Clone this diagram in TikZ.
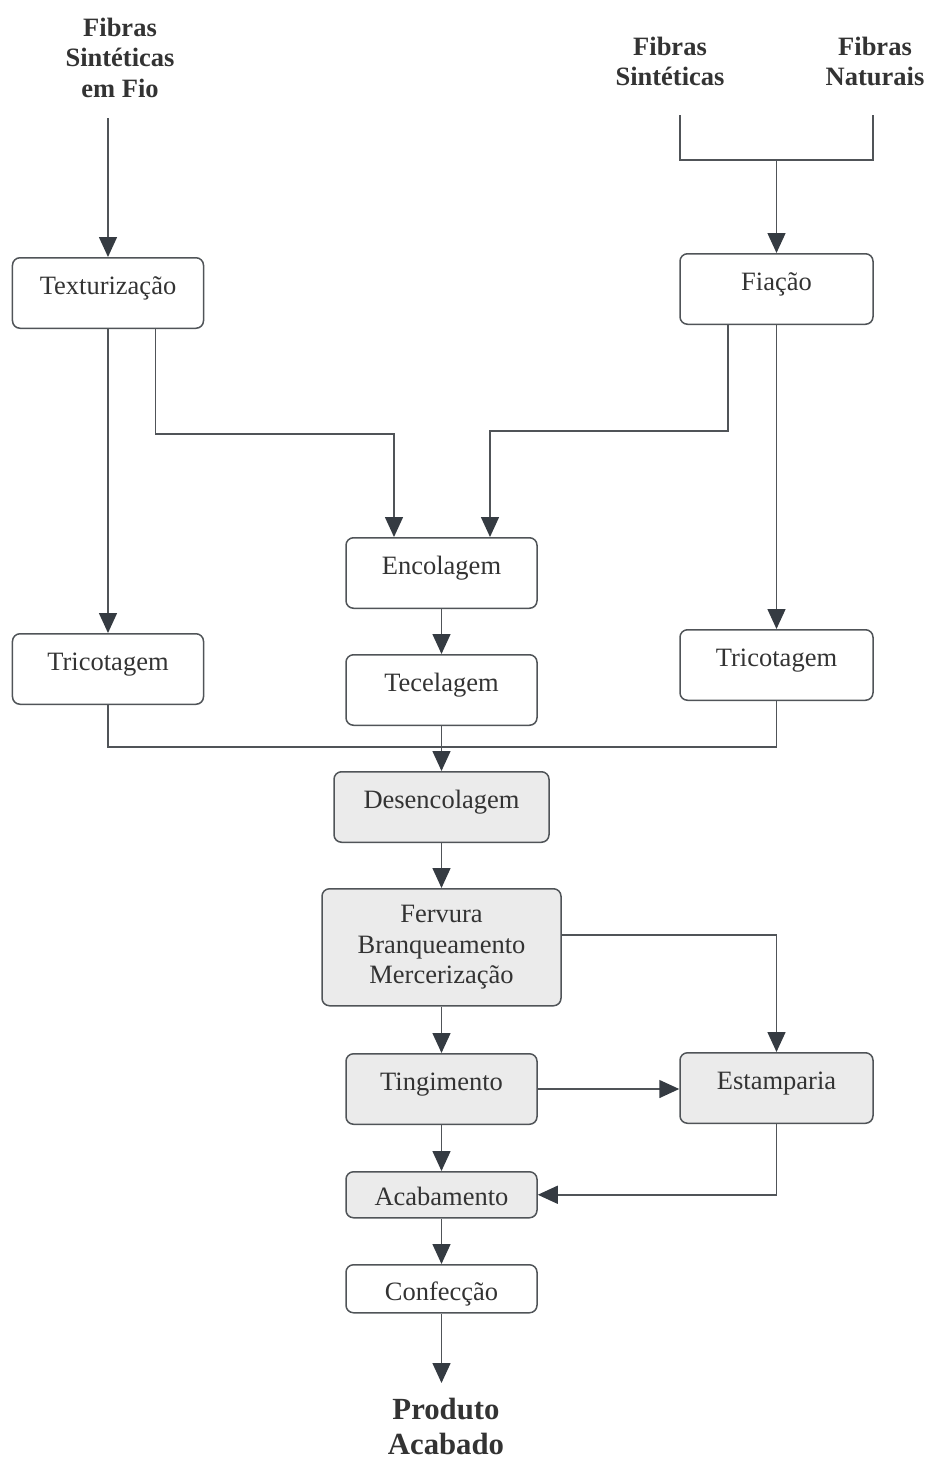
\documentclass[tikz,border=0pt]{standalone}
\usepackage{fontspec}
\setmainfont{Liberation Serif}
\usepackage{tikz}
\usepackage{xcolor}
\usetikzlibrary{arrows.meta}
\usetikzlibrary{calc}

\definecolor{lineC}{HTML}{505458}
\definecolor{tipC}{HTML}{353B42}
\definecolor{txtC}{HTML}{333333}
\definecolor{fillC}{HTML}{EBEBEB}

\tikzset{
  box/.style={draw=lineC, line width=0.6pt, rounded corners=3pt, inner ysep=0pt,
    text=txtC, font=\fontsize{10.6pt}{12.2pt}\selectfont, minimum width=76.4pt},
  proc/.style={box, anchor=north, text height=14.8pt, text depth=#1},
  proc/.default=13.4pt,
  shaded/.style={fill=fillC},
  head/.style={text=txtC, align=center, font=\fontsize{10.6pt}{12.2pt}\selectfont\bfseries},
  line/.style={draw=lineC, line width=0.6pt},
  arr/.style={line, -{Triangle[width=7.2pt,length=8pt,color=tipC]}}
}

\begin{document}
\begin{tikzpicture}[x=0.4pt,y=-0.4pt]
\useasboundingbox (0,0) rectangle (926,1460);
% Raw materials (nodes)
\node[head] (fsf) at (120,57.5) {Fibras\\Sintéticas\\em Fio};
\node[head] (fs) at (670,61.5) {Fibras\\Sintéticas};
\node[head] (fn) at (875,61.5) {Fibras\\Naturais};
\coordinate (fsfOut) at (108,118);
\coordinate (fsOut) at (680,115);
\coordinate (fnOut) at (873,115);
% Process steps (nodes)
\node[proc] (tex) at (108,257) {Texturização};
\node[proc, minimum width=77.2pt] (fia) at (776.5,253) {Fiação};
\node[proc] (enc) at (441.5,537) {Encolagem};
\node[proc] (tec) at (441.5,654) {Tecelagem};
\node[proc] (tri1) at (108,633) {Tricotagem};
\node[proc, minimum width=77.2pt] (tri2) at (776.5,629) {Tricotagem};
\node[proc, shaded, minimum width=86pt] (des) at (441.5,771) {Desencolagem};
\node[box, shaded, anchor=north, align=center, minimum width=95.6pt, minimum height=46.8pt] (fer) at (441.5,888)
  {Fervura\\Branqueamento\\Mercerização};
\node[proc, shaded] (tin) at (441.5,1053) {Tingimento};
\node[proc, shaded, minimum width=77.2pt] (est) at (776.5,1052) {Estamparia};
\node[proc=4.8pt, shaded, text height=13.6pt] (aca) at (441.5,1171) {Acabamento};
\node[proc=4.8pt, text height=14.4pt] (con) at (441.5,1264) {Confecção};
% Final product (node)
\node[head, font=\fontsize{12.3pt}{14pt}\selectfont\bfseries] (prod) at (446,1426) {Produto\\Acabado};
\coordinate (prodIn) at (441.5,1383);
% Arrows
\draw[arr] (fsfOut) -- (tex.north);
\draw[line] (fsOut) |- (fia.north |- 0,160) -| (fnOut);
\draw[arr] (fia.north |- 0,160) -- (fia.north);
\draw[arr] (tex.south) -- (tri1.north);
\draw[arr] ([xshift=19pt]tex.south) -- ++(0,105) -| ([xshift=-19pt]enc.north);
\draw[arr] ([xshift=-19.4pt]fia.south) -- ++(0,106) -| ([xshift=19.4pt]enc.north);
\draw[arr] (fia.south) -- (tri2.north);
\draw[arr] (enc.south) -- (tec.north);
\draw[line] (tri1.south) -- ++(0,42) -| (tri2.south);
\draw[arr] (tec.south) -- (des.north);
\draw[arr] (des.south) -- (fer.north);
\draw[arr] ([yshift=5pt]fer.east) -| (est.north);
\draw[arr] (fer.south) -- (tin.north);
\draw[arr] (tin.east) -- (tin.east -| est.west);
\draw[arr] (tin.south) -- (aca.north);
\draw[arr] (est.south) |- (aca.east);
\draw[arr] (aca.south) -- (con.north);
\draw[arr] (con.south) -- (prodIn);
\end{tikzpicture}
\end{document}
